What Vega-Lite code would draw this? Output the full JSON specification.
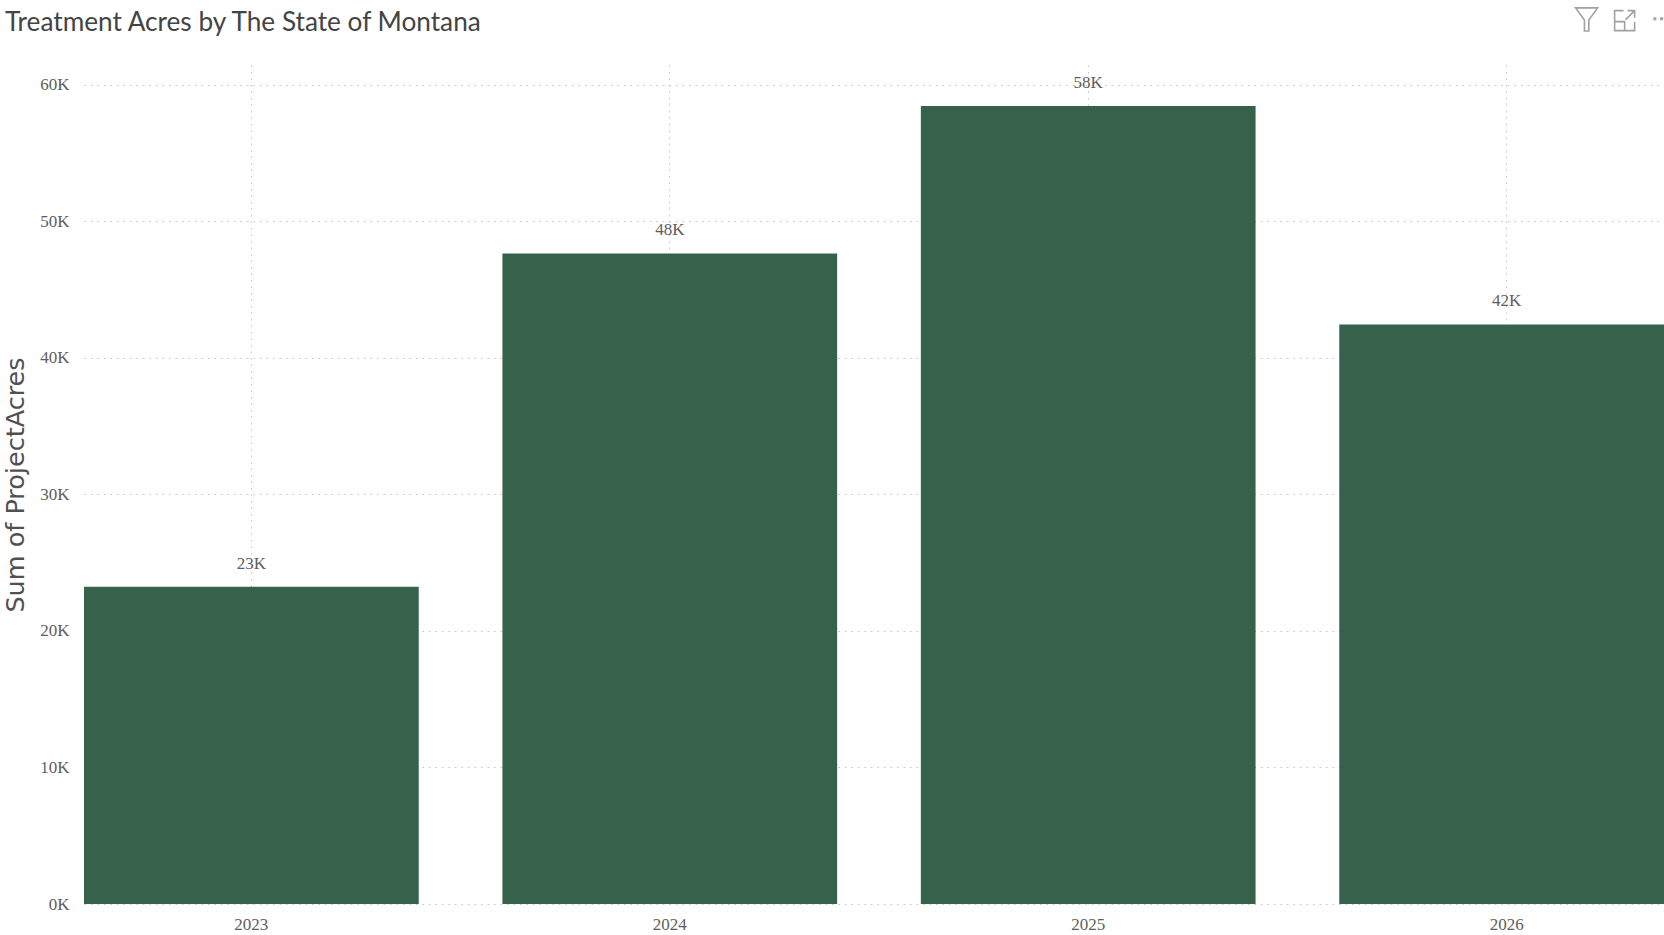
{
  "$schema": "https://vega.github.io/schema/vega-lite/v6.json",
  "width": 1580,
  "height": 839,
  "autosize": {"type": "none"},
  "padding": {"left": 84, "top": 65, "right": 0, "bottom": 31},
  "background": "#ffffff",
  "title": {
    "text": "Treatment Acres by The State of Montana",
    "anchor": "start",
    "frame": "group",
    "dx": -79,
    "dy": 32,
    "offset": 0,
    "font": "Lato",
    "fontSize": 26.2,
    "fontWeight": "normal",
    "color": "#444444"
  },
  "config": {"view": {"stroke": null}},
  "data": {
    "values": [
      {"year": "2023", "acres": 23240},
      {"year": "2024", "acres": 47650},
      {"year": "2025", "acres": 58450},
      {"year": "2026", "acres": 42450}
    ]
  },
  "transform": [
    {"calculate": "round(datum.acres / 1000) + 'K'", "as": "label"}
  ],
  "encoding": {
    "x": {
      "field": "year",
      "type": "nominal",
      "scale": {"range": [0, 1590], "paddingInner": 0.2, "paddingOuter": 0},
      "axis": {
        "title": null,
        "labelAngle": 0,
        "labelFont": "Liberation Serif",
        "labelFontSize": 17,
        "labelColor": "#605e5c",
        "labelPadding": 12,
        "ticks": false,
        "domain": false,
        "grid": true,
        "gridColor": "#c4c4c4",
        "gridDash": [1.5, 5]
      }
    },
    "y": {
      "field": "acres",
      "type": "quantitative",
      "scale": {"domain": [0, 61450], "nice": false},
      "axis": {
        "title": "Sum of ProjectAcres",
        "titleFont": "DejaVu Sans",
        "titleFontSize": 25.5,
        "titleFontWeight": "normal",
        "titleColor": "#505050",
        "titleX": -56,
        "values": [0, 10000, 20000, 30000, 40000, 50000, 60000],
        "labelExpr": "(datum.value / 1000) + 'K'",
        "labelFont": "Liberation Serif",
        "labelFontSize": 17,
        "labelColor": "#605e5c",
        "labelPadding": 15,
        "ticks": false,
        "domain": false,
        "grid": true,
        "gridColor": "#c4c4c4",
        "gridDash": [1.5, 5]
      }
    }
  },
  "layer": [
    {
      "mark": {"type": "bar", "fill": "#36624c", "clip": false}
    },
    {
      "mark": {
        "type": "text",
        "baseline": "bottom",
        "dy": -14,
        "font": "Liberation Serif",
        "fontSize": 17,
        "fill": "#605e5c"
      },
      "encoding": {"text": {"field": "label"}}
    },
    {
      "data": {"values": [{"year": "2026", "top": 64830}]},
      "transform": [],
      "mark": {
        "type": "point",
        "shape": "M-1 -1 L1 -1 L0.2 0.1 L0.2 1.1 L-0.2 1.1 L-0.2 0.1 Z",
        "size": 484,
        "filled": false,
        "stroke": "#7a7a7a",
        "strokeWidth": 1.6,
        "xOffset": 80,
        "clip": false
      },
      "encoding": {
        "x": {"field": "year", "type": "nominal"},
        "y": {"field": "top", "type": "quantitative"}
      }
    },
    {
      "data": {"values": [{"year": "2026", "top": 64700}]},
      "transform": [],
      "mark": {
        "type": "point",
        "shape": "M-0.1 -1 L-1 -1 L-1 1 L1 1 L1 0.1 M-1 0.1 L0 0.1 L0 1 M0.1 -0.1 L0.95 -0.95 M0.3 -1 L1 -1 L1 -0.3",
        "size": 400,
        "filled": false,
        "stroke": "#7a7a7a",
        "strokeWidth": 1.6,
        "xOffset": 118,
        "clip": false
      },
      "encoding": {
        "x": {"field": "year", "type": "nominal"},
        "y": {"field": "top", "type": "quantitative"}
      }
    },
    {
      "data": {"values": [{"year": "2026", "top": 64830}]},
      "transform": [],
      "mark": {
        "type": "point",
        "shape": "M-1.64 -0.3 L-1.04 -0.3 L-1.04 0.3 L-1.64 0.3 Z M-0.3 -0.3 L0.3 -0.3 L0.3 0.3 L-0.3 0.3 Z M1.04 -0.3 L1.64 -0.3 L1.64 0.3 L1.04 0.3 Z",
        "size": 100,
        "filled": true,
        "fill": "#7a7a7a",
        "xOffset": 155,
        "clip": false
      },
      "encoding": {
        "x": {"field": "year", "type": "nominal"},
        "y": {"field": "top", "type": "quantitative"}
      }
    }
  ]
}
